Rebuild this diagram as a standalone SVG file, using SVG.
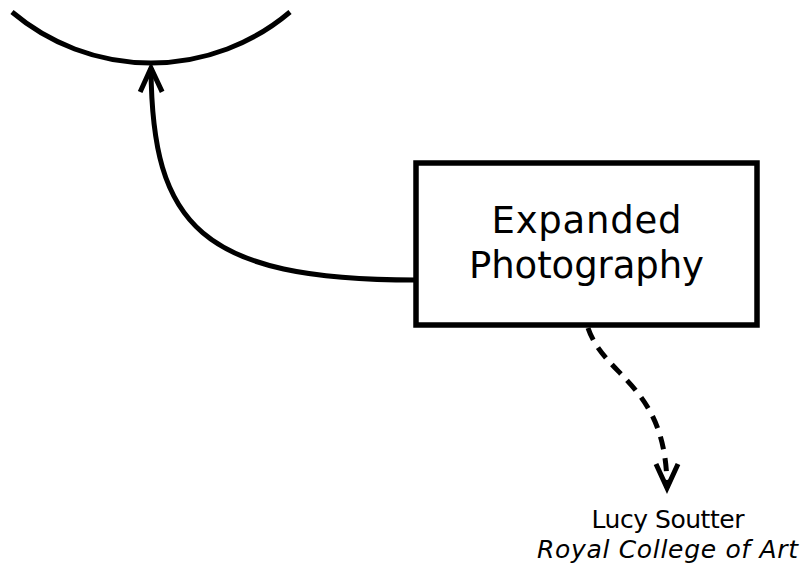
<svg xmlns="http://www.w3.org/2000/svg" width="804" height="572" viewBox="0 0 804 572">
  <style>
    .line { fill: none; stroke: #000; stroke-width: 5; }
    .dash { stroke-dasharray: 13 9; }
    .box { fill: #fff; stroke: #000; stroke-width: 5.5; }
    .label { font-family: "DejaVu Sans", "Liberation Sans", sans-serif; fill: #000; text-anchor: middle; }
  </style>
  <defs>
    <marker id="open-arrow" markerUnits="userSpaceOnUse" viewBox="-28 -14 32 28" refX="0" refY="0" markerWidth="32" markerHeight="28" orient="auto" overflow="visible">
      <path d="M-24,-11 L0,0 L-24,11" fill="none" stroke="#000" stroke-width="5" stroke-dasharray="none" stroke-linejoin="miter"/>
    </marker>
  </defs>

  <rect width="804" height="572" fill="#fff"/>

  <!-- partial outline of an upper node -->
  <g id="upper-node">
    <path class="line" d="M12,12 A215,215 0 0 0 290,12"/>
  </g>

  <g id="connectors">
    <path class="line" d="M416,280 C200,280 152,225 151,68" marker-end="url(#open-arrow)"/>
    <path class="line dash" d="M588,328 C605,378 667,385 667,488" marker-end="url(#open-arrow)"/>
  </g>

  <g id="expanded-photography">
    <rect class="box" x="416" y="163" width="341" height="162"/>
    <text class="label" x="586.5" y="233" font-size="37" textLength="190" lengthAdjust="spacing">Expanded</text>
    <text class="label" x="586.5" y="278" font-size="37" textLength="235" lengthAdjust="spacing">Photography</text>
  </g>

  <g id="credit">
    <text class="label" x="668" y="528" font-size="25" textLength="153" lengthAdjust="spacing">Lucy Soutter</text>
    <text class="label" x="667.5" y="558" font-size="25" font-style="italic" textLength="261" lengthAdjust="spacing">Royal College of Art</text>
  </g>
</svg>
